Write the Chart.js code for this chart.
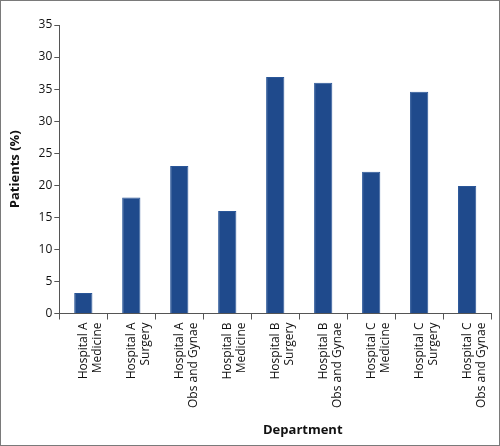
<!DOCTYPE html>
<html>
<head>
<meta charset="utf-8">
<script src="https://cdn.jsdelivr.net/npm/chart.js@4.4.0/dist/chart.umd.min.js"></script>
<style>
    html, body { margin: 0; padding: 0; background: #fff; }
    .frame {
        position: relative;
        width: 500px;
        height: 446px;
        box-sizing: border-box;
        border: 1px solid #7a7a7a;
    }
    #chart { position: absolute; left: 0; top: 0; }
    .xtitle {
        position: absolute;
        left: 262px;
        top: 419px;
        font-family: 'Open Sans', sans-serif;
        font-weight: bold;
        font-size: 13px;
        color: #111;
    }
</style>
</head>
<body>
<div class="frame">
    <canvas id="chart" width="498" height="444"></canvas>
    <div class="xtitle">Department</div>
</div>
<script>
// Chart data
const departments = [
    ['Hospital A', 'Medicine'],
    ['Hospital A', 'Surgery'],
    ['Hospital A', 'Obs and Gynae'],
    ['Hospital B', 'Medicine'],
    ['Hospital B', 'Surgery'],
    ['Hospital B', 'Obs and Gynae'],
    ['Hospital C', 'Medicine'],
    ['Hospital C', 'Surgery'],
    ['Hospital C', 'Obs and Gynae']
];
const patientsPct = [3.2, 18.1, 23.0, 16.0, 36.9, 36.0, 22.1, 34.6, 19.9];
// tick labels as printed on the original axis (top two repeat 30, 35)
const yTickLabels = ['0', '5', '10', '15', '20', '25', '30', '35', '30', '35'];

document.addEventListener('DOMContentLoaded', function () {
    initBarChart();
});

function initBarChart() {
    const ctx = document.getElementById('chart').getContext('2d');
    const axisColor = '#555';

    new Chart(ctx, {
        type: 'bar',
        data: {
            labels: departments,
            datasets: [{
                label: 'Patients (%)',
                data: patientsPct,
                backgroundColor: '#1f4a8c',
                borderColor: '#2a5698',
                borderWidth: 1,
                barPercentage: 0.38,
                categoryPercentage: 1
            }]
        },
        options: {
            responsive: false,
            animation: false,
            layout: {
                padding: { left: 6, right: 1, top: 24, bottom: 34 }
            },
            plugins: {
                legend: { display: false },
                tooltip: { enabled: false }
            },
            scales: {
                y: {
                    min: 0,
                    max: 45,
                    ticks: {
                        stepSize: 5,
                        color: '#111',
                        padding: 2,
                        font: { family: 'Open Sans', size: 12 },
                        callback: function (value) {
                            return yTickLabels[Math.round(value / 5)];
                        }
                    },
                    grid: {
                        drawOnChartArea: false,
                        tickLength: 5,
                        color: axisColor
                    },
                    border: { color: axisColor, width: 1 },
                    title: {
                        display: true,
                        text: 'Patients (%)',
                        color: '#111',
                        padding: { top: 0, bottom: 14 },
                        font: { family: 'Open Sans', size: 13, weight: 'bold' }
                    }
                },
                x: {
                    ticks: {
                        minRotation: 90,
                        maxRotation: 90,
                        color: '#111',
                        padding: 3,
                        font: { family: 'Open Sans', size: 12 }
                    },
                    grid: {
                        drawOnChartArea: false,
                        offset: true,
                        tickLength: 6,
                        color: axisColor
                    },
                    border: { color: axisColor, width: 1 }
                }
            }
        }
    });
}
</script>
</body>
</html>
